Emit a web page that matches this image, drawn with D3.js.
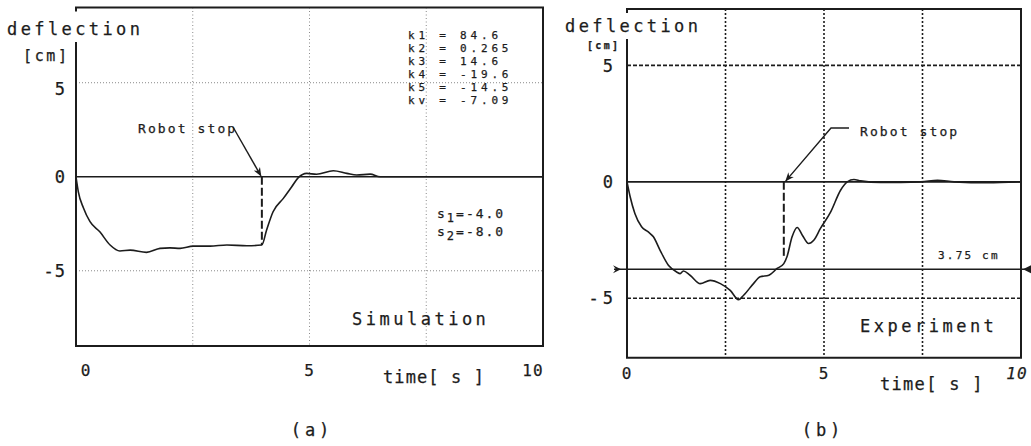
<!DOCTYPE html>
<html>
<head>
<meta charset="utf-8">
<script src="https://cdn.jsdelivr.net/npm/d3@7"></script>
<style>
body{margin:0;background:#fff}
text{font-family:"DejaVu Sans Mono",monospace;fill:#1c1c1c;stroke:#1c1c1c;stroke-width:0.25}
</style>
</head>
<body>
<div id="chart"></div>
<script>
// simulation (a): deflection [cm] vs time [s]
const simTime = [0, 0.05, 0.16, 0.30, 0.51, 0.73, 0.94, 1.16, 1.51, 1.80, 2.01, 2.23, 2.51, 2.87, 3.23, 3.66, 3.98,
  4.08, 4.22, 4.44, 4.62, 4.76, 4.94, 5.15, 5.51, 5.80, 6.01, 6.30, 6.51, 10];
const simDefl = [0, -0.80, -1.66, -2.39, -2.93, -3.63, -3.95, -3.90, -4.02, -3.81, -3.78, -3.81, -3.69, -3.69, -3.63, -3.67, -3.63,
  -2.84, -1.86, -1.15, -0.53, -0.05, 0.18, 0.13, 0.32, 0.18, 0.09, 0.14, 0, 0];

// experiment (b)
const expTime = [0, 0.08, 0.20, 0.37, 0.54, 0.67, 0.84, 1.05, 1.26, 1.35, 1.43, 1.60, 1.86, 2.11, 2.37, 2.62, 2.83, 2.96,
  3.21, 3.38, 3.60, 3.81, 3.98, 4.06, 4.19, 4.32, 4.45, 4.61, 4.74, 4.91, 5.17, 5.42, 5.59, 5.76, 5.93, 6.44, 7.46, 7.88, 8.30, 9.16, 10];
const expDefl = [0, -0.64, -1.36, -1.93, -2.15, -2.36, -2.94, -3.58, -3.87, -3.94, -3.83, -4.01, -4.37, -4.23, -4.37, -4.66, -5.06, -4.87,
  -4.37, -4.08, -4.01, -3.72, -3.51, -3.22, -2.36, -1.96, -2.29, -2.65, -2.51, -2.00, -1.29, -0.36, 0, 0.10, 0.04, -0.03, 0, 0.07, 0, -0.04, 0];

const xTicks = [0, 5, 10];
const yTicks = [-5, 0, 5];
const gridX = [2.5, 5, 7.5];
const gridY = [-5, 5];
const gainNames = ["k1", "k2", "k3", "k4", "k5", "kv"];
const gainValues = ["84.6", "0.265", "14.6", "-19.6", "-14.5", "-7.09"];
const poleValues = ["-4.0", "-8.0"];
const robotStop = 3.98;          // s
const simStopDepth = -3.63;
const expStopDepth = -3.3;
const expLimit = -3.75;          // cm

const W = 1031, H = 446;
const svg = d3.select("#chart").append("svg").attr("width", W).attr("height", H);

const defs = svg.append("defs");
defs.append("marker").attr("id", "arr").attr("viewBox", "0 0 10 10")
  .attr("refX", 9).attr("refY", 5).attr("markerWidth", 9).attr("markerHeight", 9)
  .attr("markerUnits", "userSpaceOnUse").attr("orient", "auto")
  .append("path").attr("d", "M0,1 L10,5 L0,9 L3,5 Z").attr("fill", "#1c1c1c");

function panel(cfg){
  const x = d3.scaleLinear().domain([0, 10]).range([cfg.left, cfg.right]);
  const y = d3.scaleLinear().domain(cfg.ydom).range([cfg.bottom, cfg.top]);
  const g = svg.append("g");

  // grid
  g.selectAll(".gx").data(gridX).enter().append("line")
    .attr("x1", d => x(d)).attr("x2", d => x(d)).attr("y1", cfg.top).attr("y2", cfg.bottom)
    .attr("stroke", cfg.gridColor).attr("stroke-width", cfg.gridW).attr("stroke-dasharray", cfg.vDash);
  g.selectAll(".gy").data(gridY).enter().append("line")
    .attr("x1", cfg.left).attr("x2", cfg.right).attr("y1", d => y(d)).attr("y2", d => y(d))
    .attr("stroke", cfg.gridColor).attr("stroke-width", cfg.gridW).attr("stroke-dasharray", cfg.hDash);

  // zero line
  g.append("line").attr("x1", cfg.left).attr("x2", cfg.right).attr("y1", y(0)).attr("y2", y(0))
    .attr("stroke", "#1c1c1c").attr("stroke-width", 1.6);

  // frame: open at top-left for the axis title
  g.append("path")
    .attr("d", `M${cfg.left},${cfg.top + 4} L${cfg.left},${cfg.top} L${cfg.right},${cfg.top} L${cfg.right},${cfg.bottom} L${cfg.left},${cfg.bottom} L${cfg.left},${cfg.axisTop}`)
    .attr("fill", "none").attr("stroke", "#1c1c1c").attr("stroke-width", 2);

  // tick labels
  g.selectAll(".xt").data(xTicks).enter().append("text")
    .attr("x", (d, i) => x(d) + cfg.xtOff[i]).attr("y", cfg.xtY)
    .attr("text-anchor", "middle").attr("font-size", 16).attr("letter-spacing", 1)
    .attr("font-style", (d, i) => cfg.italic10 && i === 2 ? "italic" : null)
    .text(d => d);
  g.selectAll(".yt").data(yTicks).enter().append("text")
    .attr("x", cfg.left - 10).attr("y", d => y(d) + 6 + (d === 5 ? cfg.fiveOff : 0))
    .attr("text-anchor", "end").attr("font-size", 17).attr("letter-spacing", cfg.minusGap)
    .text(d => d < 0 ? "-" + Math.abs(d) : d);

  return {g, x, y};
}

const A = panel({left: 76, right: 543, top: 7.5, bottom: 346, axisTop: 42, ydom: [-9, 9],
  gridColor: "#8a8a8a", gridW: 1, vDash: "1,2.5", hDash: "1,2",
  xtOff: [10, 0, -10], xtY: 376, fiveOff: 6, minusGap: 1, italic10: false});
const B = panel({left: 627, right: 1021, top: 9, bottom: 357.7, axisTop: 39, ydom: [-7.55, 7.42],
  gridColor: "#1c1c1c", gridW: 1.6, vDash: "2,2", hDash: "4,2",
  xtOff: [0, 0, -4], xtY: 379, fiveOff: 1, minusGap: 4, italic10: true});

const line = (xs, ys, p) => d3.line().x(i => p.x(xs[i])).y(i => p.y(ys[i])).curve(d3.curveMonotoneX)(d3.range(xs.length));

A.g.append("path").attr("d", line(simTime, simDefl, A)).attr("fill", "none")
  .attr("stroke", "#1c1c1c").attr("stroke-width", 1.6);
B.g.append("path").attr("d", line(expTime, expDefl, B)).attr("fill", "none")
  .attr("stroke", "#1c1c1c").attr("stroke-width", 1.6);

// robot stop dashed lines
[[A, simStopDepth], [B, expStopDepth]].forEach(([p, d]) => {
  p.g.append("line").attr("x1", p.x(robotStop)).attr("x2", p.x(robotStop))
    .attr("y1", p.y(0)).attr("y2", p.y(d))
    .attr("stroke", "#1c1c1c").attr("stroke-width", 2).attr("stroke-dasharray", "8,3");
});

// axis titles
const title = (x, y, s, size, ls, extra) => {
  const t = svg.append("text").attr("x", x).attr("y", y).attr("font-size", size)
    .attr("letter-spacing", ls).text(s);
  if (extra) extra(t);
  return t;
};
title(7, 35, "deflection", 17, 3.4);
title(23, 61, "[cm]", 15, 2.6);
title(565, 32, "deflection", 17, 3.4);
title(587, 49, "[cm]", 10, 2.3, t => t.attr("font-weight", "bold"));
title(383, 383, "time[ s ]", 17, 1.1);
title(880, 390, "time[ s ]", 17, 1.3);
title(352, 325, "Simulation", 17, 3.5);
title(860, 332, "Experiment", 17, 3.5);
title(312, 436, "(a)", 17, 4, t => t.attr("text-anchor", "middle"));
title(823, 436, "(b)", 17, 4, t => t.attr("text-anchor", "middle"));

// gains
svg.selectAll(".gain").data(gainNames).enter().append("text")
  .attr("x", 408).attr("y", (d, i) => 39 + i * 12.9)
  .attr("font-size", 11).attr("letter-spacing", 3.8)
  .text((d, i) => `${d} = ${gainValues[i]}`);

// poles
poleValues.forEach((v, i) => {
  const t = svg.append("text").attr("x", 437).attr("y", 218 + i * 18)
    .attr("font-size", 13).attr("letter-spacing", 2);
  t.append("tspan").text("s");
  t.append("tspan").attr("dy", 4).attr("font-size", 12).text(i + 1);
  t.append("tspan").attr("dy", -4).text("=" + v);
});

// robot stop annotations
title(138, 133, "Robot stop", 13, 2.1);
svg.append("line").attr("x1", 233).attr("y1", 127).attr("x2", A.x(robotStop) - 1).attr("y2", A.y(0) - 1)
  .attr("stroke", "#1c1c1c").attr("stroke-width", 1.4).attr("marker-end", "url(#arr)");

title(860, 136, "Robot stop", 13, 2.1);
svg.append("path").attr("d", `M849,128 L831,128 L${B.x(robotStop) + 2},${B.y(0) - 1}`)
  .attr("fill", "none").attr("stroke", "#1c1c1c").attr("stroke-width", 1.4).attr("marker-end", "url(#arr)");

// 3.75 cm limit line with inward arrowheads
const yl = B.y(expLimit);
svg.append("line").attr("x1", 614).attr("x2", 1031).attr("y1", yl).attr("y2", yl)
  .attr("stroke", "#1c1c1c").attr("stroke-width", 1.6);
svg.append("path").attr("d", `M613,${yl - 4} L621,${yl} L613,${yl + 4} L616,${yl} Z`).attr("fill", "#1c1c1c");
svg.append("path").attr("d", `M1031,${yl - 4} L1023,${yl} L1031,${yl + 4} Z`).attr("fill", "#1c1c1c");
title(938, 259, "3.75 cm", 11, 2.2);
</script>
</body>
</html>
